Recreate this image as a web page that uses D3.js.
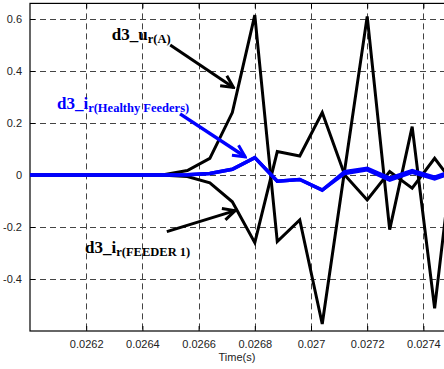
<!DOCTYPE html>
<html>
<head>
<meta charset="utf-8">
<script src="https://cdn.jsdelivr.net/npm/d3@7"></script>
<style>
  body { margin: 0; background: #fff; }
  svg { display: block; }
</style>
</head>
<body>
<script>
// Sizes
const width = 444, height = 369;

// Data
const time = [0.02600, 0.02608, 0.02616, 0.02624, 0.02632, 0.02640, 0.02648, 0.02656, 0.02664, 0.02672,
              0.02680, 0.02688, 0.02696, 0.02704, 0.02712, 0.02720, 0.02728, 0.02736, 0.02744, 0.02752];
const urA = [0, 0, 0, 0, 0, 0, 0.002, 0.017, 0.064, 0.24,
             0.615, -0.256, -0.173, -0.573, 0.02, 0.61, -0.21, 0.186, -0.513, 0.22];
const irFeeder1 = [0, 0, 0, 0, 0, 0, -0.001, -0.006, -0.03, -0.103,
                   -0.26, 0.09, 0.073, 0.24, 0.0, -0.096, 0.013, -0.051, 0.064, -0.05];
const irHealthy1 = [0, 0, 0, 0, 0, 0, 0, 0.001, 0.006, 0.022,
                    0.067, -0.024, -0.017, -0.058, 0.013, 0.026, -0.012, 0.017, -0.008, 0.022];
const irHealthy2 = [0, 0, 0, 0, 0, 0, 0, 0.001, 0.006, 0.022,
                    0.067, -0.024, -0.017, -0.058, 0.006, 0.02, -0.02, 0.01, -0.015, 0.015];

const xTicks = [0.0262, 0.0264, 0.0266, 0.0268, 0.027, 0.0272, 0.0274];
const yTicks = [-0.4, -0.2, 0, 0.2, 0.4, 0.6];

// Annotations: label position (t, v), arrow from, arrow to
const notes = [
  { main: "d3_u", sub: "r(A)", color: "#000", at: [0.026291, 0.519], from: [0.026499, 0.50], to: [0.026724, 0.337] },
  { main: "d3_i", sub: "r(Healthy Feeders)", color: "#0000ff", at: [0.026096, 0.254], from: [0.026534, 0.235], to: [0.026766, 0.070] },
  { main: "d3_i", sub: "r(FEEDER 1)", color: "#000", at: [0.026196, -0.30], from: [0.026487, -0.218], to: [0.026730, -0.137] }
];

const x = d3.scaleLinear().domain([0.026, 0.0275]).range([30, 451.5]);
const y = d3.scaleLinear().domain([-0.6, 0.66]).range([331, 3.4]);
const pTop = y.range()[1], pBottom = y.range()[0], pLeft = x.range()[0], pRight = x.range()[1];

const svg = d3.select("body").append("svg")
    .attr("width", width)
    .attr("height", height);

// Grid
const grid = svg.append("g")
    .attr("stroke", "#444")
    .attr("stroke-width", 1)
    .attr("stroke-dasharray", "6,4");
grid.selectAll(".vg").data(xTicks).enter().append("line")
    .attr("x1", d => Math.round(x(d)) + 0.5).attr("x2", d => Math.round(x(d)) + 0.5)
    .attr("y1", pTop).attr("y2", pBottom);
grid.selectAll(".hg").data(yTicks).enter().append("line")
    .attr("y1", d => Math.round(y(d)) + 0.5).attr("y2", d => Math.round(y(d)) + 0.5)
    .attr("x1", pLeft).attr("x2", pRight);

// Axes (ticks pointing inward, MATLAB style)
const xAxis = svg.append("g")
    .attr("transform", `translate(0,${pBottom})`)
    .call(d3.axisBottom(x).tickValues(xTicks).tickSizeInner(-5).tickSizeOuter(0).tickPadding(9).tickFormat(d => String(d)));
const xTop = svg.append("g")
    .attr("transform", `translate(0,${pTop})`)
    .call(d3.axisTop(x).tickValues(xTicks).tickSizeInner(-5).tickSizeOuter(0).tickFormat(""));
const yAxis = svg.append("g")
    .attr("transform", `translate(${pLeft},0)`)
    .call(d3.axisLeft(y).tickValues(yTicks).tickSizeInner(-5).tickSizeOuter(0).tickPadding(8).tickFormat(d => String(d)));

[xAxis, xTop, yAxis].forEach(a => {
  a.selectAll("path").remove();
  a.selectAll("line").attr("stroke", "#000");
  a.selectAll("text")
    .attr("fill", "#222")
    .style("font-family", "'Liberation Sans', Arial, sans-serif")
    .style("font-size", "11px");
});

// Box
svg.append("rect")
    .attr("x", pLeft).attr("y", pTop)
    .attr("width", pRight - pLeft).attr("height", pBottom - pTop)
    .attr("fill", "none").attr("stroke", "#000").attr("stroke-width", 1.2);

svg.append("text")
    .attr("x", 237).attr("y", 361)
    .attr("text-anchor", "middle")
    .attr("fill", "#222")
    .style("font-family", "'Liberation Sans', Arial, sans-serif")
    .style("font-size", "11px")
    .text("Time(s)");

// Clip for the series
svg.append("clipPath").attr("id", "plot")
  .append("rect").attr("x", pLeft).attr("y", pTop).attr("width", pRight - pLeft).attr("height", pBottom - pTop);

const line = d3.line().x(d => x(d[0])).y(d => y(d[1]));
const plot = svg.append("g").attr("clip-path", "url(#plot)");

const series = [
  { values: urA, color: "#000", w: 3 },
  { values: irFeeder1, color: "#000", w: 3 },
  { values: irHealthy2, color: "#0000ff", w: 3.5 },
  { values: irHealthy1, color: "#0000ff", w: 3.5 }
];
series.forEach(s => {
  plot.append("path")
      .datum(time.map((t, i) => [t, s.values[i]]))
      .attr("fill", "none")
      .attr("stroke", s.color)
      .attr("stroke-width", s.w)
      .attr("d", line);
});

// Arrow heads
const defs = svg.append("defs");
["#000", "#0000ff"].forEach((c, i) => {
  defs.append("marker")
      .attr("id", "head" + i)
      .attr("markerUnits", "userSpaceOnUse")
      .attr("viewBox", "-14 -8 16 16")
      .attr("refX", 0).attr("refY", 0)
      .attr("markerWidth", 16).attr("markerHeight", 16)
      .attr("orient", "auto")
    .append("path")
      .attr("d", "M-12,-6 L0,0 L-12,6")
      .attr("fill", "none")
      .attr("stroke", c)
      .attr("stroke-width", 3);
});

notes.forEach(n => {
  svg.append("line")
      .attr("x1", x(n.from[0])).attr("y1", y(n.from[1]))
      .attr("x2", x(n.to[0])).attr("y2", y(n.to[1]))
      .attr("stroke", n.color)
      .attr("stroke-width", n.color === "#000" ? 3 : 3.5)
      .attr("marker-end", `url(#head${n.color === "#000" ? 0 : 1})`);

  const t = svg.append("text")
      .attr("x", x(n.at[0])).attr("y", y(n.at[1]))
      .attr("fill", n.color)
      .style("font-family", "'Liberation Serif', 'Times New Roman', serif")
      .style("font-weight", "bold")
      .style("font-size", "17px");
  t.append("tspan").text(n.main);
  t.append("tspan").attr("dy", 3).style("font-size", "12.5px").text(n.sub);
});
</script>
</body>
</html>
